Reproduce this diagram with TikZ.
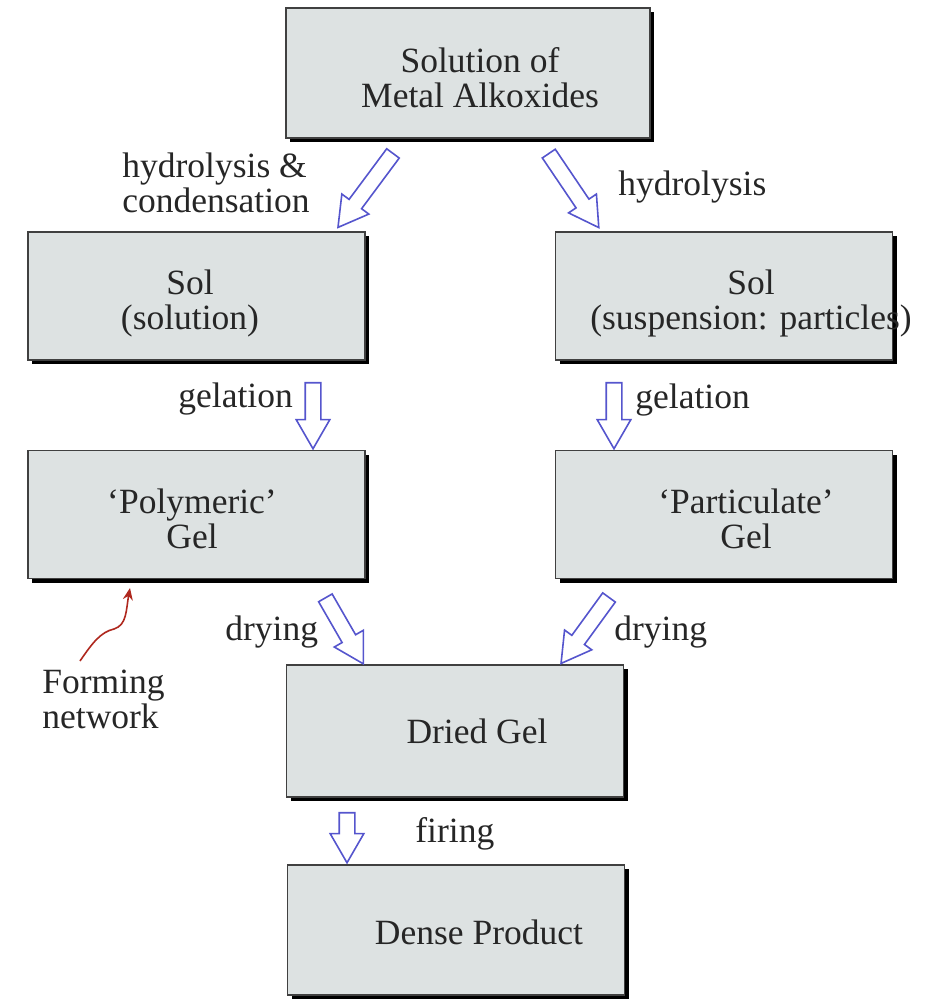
\documentclass[tikz,border=0pt]{standalone}
\usepackage{fontspec}
\setmainfont{Liberation Serif}
\usetikzlibrary{shapes.arrows,shadows,calc,arrows.meta}
\definecolor{boxfill}{RGB}{221,226,226}
\definecolor{flowblue}{RGB}{85,85,205}
\definecolor{netred}{RGB}{175,40,30}

% block arrow from one named point to another
\newcommand{\flowarrow}[2]{%
  \path let \p1=($(#2)-(#1)$), \n1={atan2(\y1,\x1)}, \n2={veclen(\x1,\y1)} in
    node[flow, rotate=\n1, minimum height=\n2] at ($(#1)!0.5!(#2)$) {};}

\begin{document}
\begin{tikzpicture}[x=0.5pt,y=-0.5pt
	,box/.style={draw=black!75, fill=boxfill, line width=0.6pt
	  ,minimum width=168.5pt, minimum height=64pt, inner sep=0pt
	  ,drop shadow={shadow xshift=2pt, shadow yshift=-2pt, fill=black, opacity=1}}
	,txt/.style={font=\fontsize{17.75}{17.5}\selectfont, align=center
	  ,inner sep=0pt, text=black!85}
	,lbl/.style={txt, align=left, anchor=west}
	,flow/.style={single arrow, draw=flowblue, fill=white, line width=0.8pt
	  ,inner sep=3.5pt, minimum width=0pt
	  ,single arrow head extend=4.5pt, single arrow tip angle=60}
	,net/.style={draw=netred, line width=0.8pt}]
  \useasboundingbox (0,0) rectangle (929,999);

  % boxes
  \node[box, minimum width=182pt, minimum height=65pt] (sol) at (468,73) {};
  \node[box]                        (solL)  at (196.5,296)  {};
  \node[box]                        (solR)  at (724,296)    {};
  \node[box]                        (polyG) at (196.5,514.5){};
  \node[box]                        (partG) at (724,514.5)  {};
  \node[box, minimum height=66pt]   (dried) at (455,731)    {};
  \node[box, minimum height=65pt]   (dense) at (456,930)    {};

  % box texts
  \node[txt] (solT)   at (480,78)  {Solution of\\Metal Alkoxides};
  \node[txt] (solLT)  at (190,303) {Sol\\(solution)};
  \node[txt] (solRT)  at (751,303) {Sol\\(suspension: particles)};
  \node[txt] (polyGT) at (192,518.5) {`Polymeric'\\Gel};
  \node[txt] (partGT) at (746,518.5) {`Particulate'\\Gel};
  \node[txt] (driedT) at (477,731) {Dried Gel};
  \node[txt] (denseT) at (479,932) {Dense Product};

  % step labels
  \node[lbl] (hyco)  at (122,183) {hydrolysis \&\\condensation};
  \node[lbl] (hyd)   at (618,187) {hydrolysis};
  \node[lbl] (gelL)  at (178,399) {gelation};
  \node[lbl] (gelR)  at (635,400) {gelation};
  \node[lbl] (dryL)  at (225,632) {drying};
  \node[lbl] (dryR)  at (614,632) {drying};
  \node[lbl] (fire)  at (415,834) {firing};
  \node[lbl] (fnet)  at (42,699)  {Forming\\network};

  % arrow ends
  \coordinate (a1s) at (397,148); \coordinate (a1e) at (342,222);
  \coordinate (a2s) at (545,148); \coordinate (a2e) at (595,222);
  \coordinate (a3s) at (313,376); \coordinate (a3e) at (313,442);
  \coordinate (a4s) at (614,376); \coordinate (a4e) at (614,442);
  \coordinate (a5s) at (322,592); \coordinate (a5e) at (360,658);
  \coordinate (a6s) at (613,592); \coordinate (a6e) at (565,658);
  \coordinate (a7s) at (347,806); \coordinate (a7e) at (347,856);
  \coordinate (fnTail) at (80,661);
  \coordinate (fnTip)  at (130,588);

  \flowarrow{a1s}{a1e}
  \flowarrow{a2s}{a2e}
  \flowarrow{a3s}{a3e}
  \flowarrow{a4s}{a4e}
  \flowarrow{a5s}{a5e}
  \flowarrow{a6s}{a6e}
  \flowarrow{a7s}{a7e}

  % forming network pointer
  \draw[net, -{Stealth[length=6pt,width=5pt]}] (fnTail)
    .. controls (93,642) and (101,632) .. (114,629)
    .. controls (127,625) and (126,610) .. (fnTip);
\end{tikzpicture}
\end{document}
